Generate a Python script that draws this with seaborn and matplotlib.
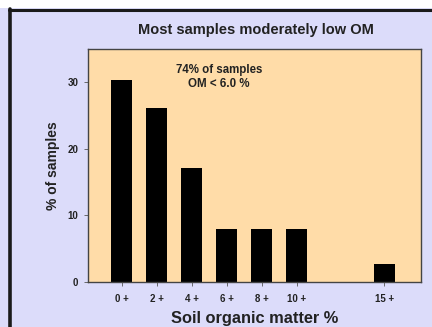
import matplotlib
matplotlib.use("Agg")
import matplotlib.pyplot as plt
from matplotlib.lines import Line2D
from matplotlib.patches import Rectangle
import seaborn as sns
import pandas as pd

# Soil organic matter classes (lower bound, %) and share of samples in each
om_class = [0, 2, 4, 6, 8, 10, 15]
pct_samples = [30.3, 26.2, 17.1, 7.9, 7.9, 7.9, 2.7]
tick_labels = ["0 +", "2 +", "4 +", "6 +", "8 +", "10 +", "15 +"]
y_ticks = [0, 10, 20, 30]

df = pd.DataFrame({"om": om_class, "pct": pct_samples})

sns.set_style("ticks")
plt.rcParams["font.family"] = ["Liberation Sans", "DejaVu Sans"]
plt.rcParams["font.weight"] = "bold"

W, H = 432, 327
fig = plt.figure(figsize=(W / 100, H / 100), dpi=100)
fig.patch.set_facecolor("#DCDCFA")

# white strip along the top and the dark frame lines
fig.patches.append(Rectangle((0, 1 - 8 / H), 1, 8 / H, transform=fig.transFigure,
                             facecolor="white", edgecolor="none", zorder=0))
fig.lines.append(Line2D([9 / W, 1], [1 - 9.5 / H, 1 - 9.5 / H], transform=fig.transFigure,
                        color="#1a1a1a", lw=2.2))
fig.lines.append(Line2D([9.5 / W, 9.5 / W], [0, 1 - 8.5 / H], transform=fig.transFigure,
                        color="#1a1a1a", lw=2.6))

ax = fig.add_axes([88 / W, 45 / H, (421 - 88) / W, (282 - 49) / H])
ax.set_facecolor("#FFDCA8")

sns.barplot(data=df, x="om", y="pct", native_scale=True, width=0.6,
            color="black", saturation=1, edgecolor="black", linewidth=0, ax=ax)

ax.set_xlim(-1.94, 17.1)
ax.set_ylim(0, 35)
ax.set_xticks(om_class)
ax.set_xticklabels(tick_labels, fontsize=7, fontweight="bold", color="#222222")
ax.set_yticks(y_ticks)
ax.set_yticklabels([str(t) for t in y_ticks], fontsize=7, fontweight="bold", color="#222222")
ax.tick_params(axis="x", length=3, width=0.6, color="#555555", pad=6)
ax.tick_params(axis="y", length=3, width=0.6, color="#555555", pad=4)

for side in ["left", "right", "top", "bottom"]:
    ax.spines[side].set_visible(True)
    ax.spines[side].set_color("#444444")
    ax.spines[side].set_linewidth(1.0)

ax.set_xlabel("Soil organic matter %", fontsize=11.8, fontweight="bold", labelpad=5,
              color="#222222")
ax.set_ylabel("% of samples", fontsize=10, fontweight="bold", labelpad=5, color="#222222")

ax.text(0.393, 0.935, "74% of samples\nOM < 6.0 %", transform=ax.transAxes,
        ha="center", va="top", fontsize=8.3, fontweight="bold", linespacing=1.2,
        color="#222222")

fig.text(256 / W, 1 - 30 / H, "Most samples moderately low OM", ha="center", va="center",
         fontsize=10.5, fontweight="bold", color="#222222")

fig.savefig("out.png", dpi=100, facecolor=fig.get_facecolor())
